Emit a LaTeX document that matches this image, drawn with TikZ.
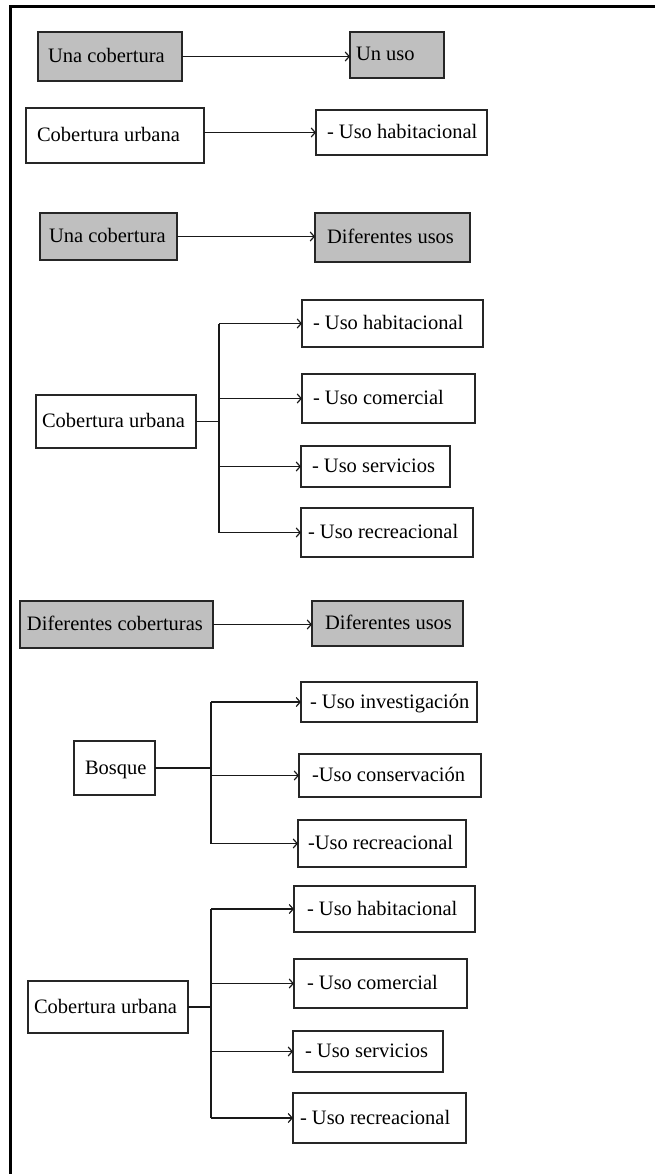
\documentclass[tikz,border=0pt]{standalone}
\usepackage{fontspec}
\setmainfont{Liberation Serif}
\usetikzlibrary{arrows.meta}
\tikzset{
  box/.style={draw=black!85, line width=1.7pt, inner sep=0pt, outer sep=0pt},
  graybox/.style={fill=black!25},
  whitebox/.style={fill=white},
  lbl/.style={inner sep=0pt, outer sep=0pt, font=\fontsize{20.5}{24}\selectfont},
  conn/.style={line width=1.6pt, black!90},
  arr/.style={conn, -{Straight Barb[length=4pt,width=9pt,line width=1.2pt]}},
  frame/.style={line width=3pt, black}
}
\newcommand\bx[8]{%
  \node[box,#2,anchor=north west,minimum width=#5-#3,minimum height=#6-#4] (#1) at (#3,#4) {};
  \node[lbl,anchor=base west] (#1t) at ([xshift=#7pt,yshift=-6pt]#1.west) {#8};}
\begin{document}
\begin{tikzpicture}[x=1pt,y=-1pt]
\useasboundingbox (0,0) rectangle (655,1174);
\draw[frame] (660,6.5) -| (10.5,1180);

% section 1
\bx{g1}{graybox}{38}{32}{182}{81}{10}{Una cobertura}
\bx{g2}{graybox}{350}{32}{444}{78}{6}{Un uso}
\bx{cua}{whitebox}{26}{108}{204}{163}{11}{Cobertura urbana}
\bx{ha}{whitebox}{316}{110}{487}{155}{11}{- Uso habitacional}
\draw[arr] (g1.east) -- (g1.east -| g2.west);
\draw[arr] (cua.east |- ha.west) -- (ha.west);

% section 2
\bx{g3}{graybox}{40}{213}{177}{260}{9}{Una cobertura}
\bx{g4}{graybox}{315}{213}{470}{262}{12}{Diferentes usos}
\draw[arr] (g3.east) -- (g3.east -| g4.west);
\bx{cub}{whitebox}{36}{395}{196}{448}{6}{Cobertura urbana}
\bx{hb}{whitebox}{302}{300}{483}{347}{11}{- Uso habitacional}
\bx{cb}{whitebox}{302}{374}{475}{423}{11}{- Uso comercial}
\bx{sb}{whitebox}{301}{446}{450}{487}{11}{- Uso servicios}
\bx{rb}{whitebox}{301}{508}{473}{557}{7}{- Uso recreacional}
\coordinate (tb) at (219,420);
\draw[conn] (cub.east) -- (cub.east -| tb);
\draw[conn] (tb |- hb.west) -- (tb |- rb.west);
\foreach \c in {hb,cb,sb,rb} \draw[arr] (tb |- \c.west) -- (\c.west);

% section 3
\bx{g5}{graybox}{20}{601}{213}{648}{7}{Diferentes coberturas}
\bx{g6}{graybox}{312}{601}{463}{646}{13}{Diferentes usos}
\draw[arr] (g5.east) -- (g5.east -| g6.west);
\bx{bq}{whitebox}{74}{741}{155}{795}{11}{Bosque}
\bx{ic}{whitebox}{301}{682}{477}{722}{9}{- Uso investigación}
\bx{kc}{whitebox}{299}{754}{481}{797}{13}{-Uso conservación}
\bx{rc}{whitebox}{298}{820}{466}{867}{10}{-Uso recreacional}
\coordinate (tc) at (211,768);
\draw[conn] (bq.east) -- (bq.east -| tc);
\draw[conn] (tc |- ic.west) -- (tc |- rc.west);
\foreach \c in {ic,kc,rc} \draw[arr] (tc |- \c.west) -- (\c.west);

% section 4
\bx{cud}{whitebox}{28}{981}{188}{1033}{6}{Cobertura urbana}
\bx{hd}{whitebox}{294}{886}{475}{932}{13}{- Uso habitacional}
\bx{cd}{whitebox}{294}{959}{467}{1008}{13}{- Uso comercial}
\bx{sd}{whitebox}{293}{1031}{443}{1072}{12}{- Uso servicios}
\bx{rd}{whitebox}{293}{1093}{466}{1143}{7}{- Uso recreacional}
\coordinate (td) at (211,1006);
\draw[conn] (cud.east) -- (cud.east -| td);
\draw[conn] (td |- hd.west) -- (td |- rd.west);
\foreach \c in {hd,cd,sd,rd} \draw[arr] (td |- \c.west) -- (\c.west);
\end{tikzpicture}
\end{document}
